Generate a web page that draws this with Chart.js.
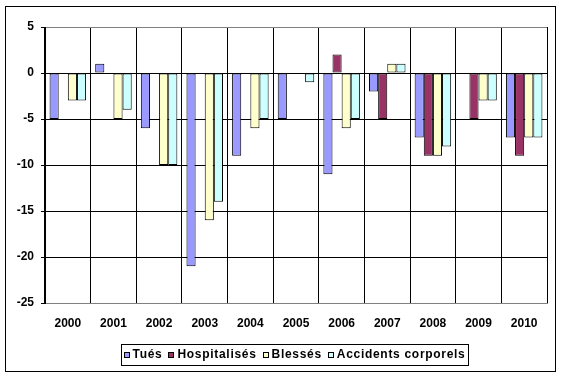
<!DOCTYPE html>
<html>
<head>
<meta charset="utf-8">
<script src="https://cdn.jsdelivr.net/npm/chart.js@4/dist/chart.umd.min.js"></script>
<style>
html,body{margin:0;padding:0;background:#fff;}
#wrap{width:561px;height:376px;position:relative;}
</style>
</head>
<body>
<div id="wrap"><canvas id="c" width="561" height="376"></canvas></div>
<script>
const years = ['2000','2001','2002','2003','2004','2005','2006','2007','2008','2009','2010'];
const tues = [-5, 1, -6, -21, -9, -5, -11, -2, -7, null, -7];
const hospitalises = [null, null, null, null, null, null, 2, -5, -9, -5, -9];
const blesses = [-3, -5, -10, -16, -6, null, -6, 1, -9, -3, -7];
const accidents = [-3, -4, -10, -14, -5, -1, -5, 1, -8, -3, -7];
const seriesNames = ['Tués', 'Hospitalisés', 'Blessés', 'Accidents corporels'];
const seriesColors = ['#9999FF', '#993366', '#FFFFCC', '#CCFFFF'];

const FONT = "'Liberation Sans', Arial, sans-serif";

const frame = {
  id: 'frame',
  afterDraw(chart) {
    const ctx = chart.ctx;
    ctx.save();
    ctx.strokeStyle = '#000';
    ctx.lineWidth = 1;
    ctx.strokeRect(5.5, 6.5, 550, 365);
    // legend
    const ds = chart.data.datasets;
    ctx.font = 'bold 12px ' + FONT;
    if ('letterSpacing' in ctx) ctx.letterSpacing = '0.7px';
    ctx.textBaseline = 'middle';
    const sq = 6, gapT = 3, gapI = 6;
    let total = 0;
    const widths = ds.map(d => ctx.measureText(d.label).width);
    widths.forEach((w, i) => { total += sq + gapT + w + (i < widths.length - 1 ? gapI : 0); });
    const boxL = 121, boxR = 468, boxT = 344, boxB = 365;
    ctx.strokeRect(boxL + 0.5, boxT + 0.5, boxR - boxL, boxB - boxT);
    let x = (boxL + boxR) / 2 - total / 2;
    const cy = (boxT + boxB) / 2 + 0.5;
    ds.forEach((d, i) => {
      ctx.fillStyle = d.backgroundColor;
      ctx.fillRect(Math.round(x), Math.round(cy - sq / 2), sq, sq);
      ctx.strokeStyle = '#000';
      ctx.strokeRect(Math.round(x) + 0.5, Math.round(cy - sq / 2) + 0.5, sq - 1, sq - 1);
      ctx.fillStyle = '#000';
      ctx.textAlign = 'left';
      ctx.fillText(d.label, x + sq + gapT, cy);
      x += sq + gapT + widths[i] + gapI;
    });
    ctx.restore();
  }
};

const seriesData = [tues, hospitalises, blesses, accidents];
new Chart(document.getElementById('c'), {
  type: 'bar',
  data: {
    labels: years,
    datasets: seriesNames.map((n, i) => ({
      label: n,
      data: seriesData[i],
      backgroundColor: seriesColors[i],
      borderColor: '#000',
      borderWidth: 1,
      borderSkipped: false,
      categoryPercentage: 0.8,
      barPercentage: 1.0
    }))
  },
  options: {
    responsive: false,
    animation: false,
    devicePixelRatio: 1,
    layout: { padding: { left: 5, right: 14, top: 27, bottom: 0 } },
    plugins: { legend: { display: false }, tooltip: { enabled: false }, title: { display: false } },
    scales: {
      x: {
        afterFit(s) { s.height = 73; },
        grid: {
          offset: true,
          drawTicks: false,
          color: (c) => (c.index === years.length ? '#808080' : '#000'),
          lineWidth: 1
        },
        border: { color: '#808080', width: 1 },
        ticks: { color: '#000', padding: 13, font: { family: FONT, size: 12, weight: 'bold' } }
      },
      y: {
        min: -25,
        max: 5,
        afterFit(s) { s.width = 40; },
        grid: {
          color: (c) => (c.tick && (c.tick.value === 5 || c.tick.value === -25) ? '#808080' : '#000'),
          tickColor: '#000',
          tickLength: 4,
          lineWidth: 1
        },
        border: { color: '#000', width: 1 },
        ticks: { stepSize: 5, color: '#000', padding: 7, font: { family: FONT, size: 12, weight: 'bold' } }
      }
    }
  },
  plugins: [frame]
});
</script>
</body>
</html>
